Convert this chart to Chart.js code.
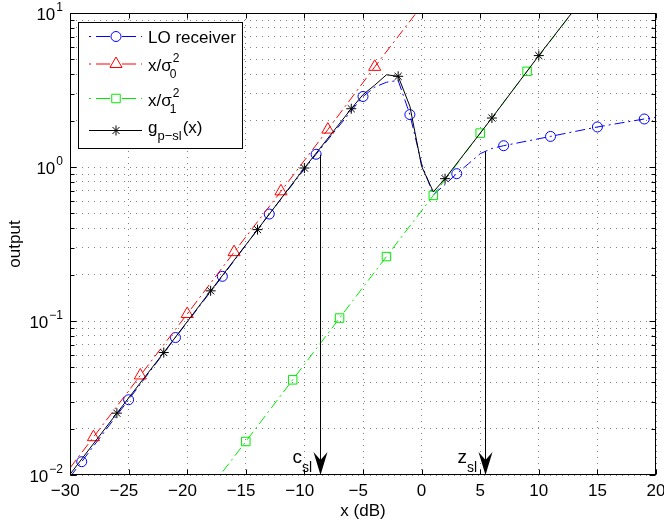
<!DOCTYPE html>
<html>
<head>
<meta charset="utf-8">
<script src="https://cdn.jsdelivr.net/npm/chart.js@4.4.1/dist/chart.umd.min.js"></script>
<style>
  html, body { margin: 0; padding: 0; background: #fff; }
  canvas { display: block; }
</style>
</head>
<body>
<canvas id="chart" width="664" height="527"></canvas>
<script>
// values (x in dB, output on log axis)
const loX = [-30, -29, -25, -21, -17, -13, -9, -5, -4, -3, -2, -1, 0, 1, 2, 3, 4, 5, 6, 7, 11, 15, 19, 20];
const loY = [0.0097, 0.0122, 0.0308, 0.0781, 0.195, 0.495, 1.21, 2.87, 3.3, 3.55, 3.65, 2.19, 1.05, 0.66, 0.77, 0.905, 1.05, 1.22, 1.32, 1.375, 1.58, 1.82, 2.05, 2.1];
const loMarks = [-29, -25, -21, -17, -13, -9, -5, -1, 3, 7, 11, 15, 19];

const s0X = [-30, -28, -24, -20, -16, -12, -8, -4, 0];
const s0Y = [0.0111, 0.0176, 0.0443, 0.111, 0.28, 0.695, 1.75, 4.47, 11.1];
const s0Marks = [-28, -24, -20, -16, -12, -8, -4];

const s1X = [-18, -15, -11, -7, -3, 1, 5, 9, 13];
const s1Y = [0.0083, 0.0165, 0.0415, 0.1045, 0.262, 0.654, 1.66, 4.18, 10.4];
const s1Marks = [-15, -11, -7, -3, 1, 5, 9];

const gX = [-30, -26, -22, -18, -14, -10, -6, -5, -4, -3, -2, -1, 0, 1, 2, 6, 10, 14];
const gY = [0.0101, 0.0252, 0.0624, 0.157, 0.392, 0.985, 2.39, 2.95, 3.4, 3.97, 3.88, 2.48, 1.01, 0.69, 0.84, 2.08, 5.29, 13.1];
const gMarks = [-26, -22, -18, -14, -10, -6, -2, 2, 6, 10];

const xTickVals = [-30, -25, -20, -15, -10, -5, 0, 5, 10, 15, 20];
const yDecades = [-2, -1, 0, 1];

// the two marked thresholds (arrows down to the x axis)
const arrowX = [-8.7, 5.4];
const arrowTop = [1.2, 1.26];
const arrowName = ['c', 'z'];
const arrowSub = 'sl';

const FONT = "'Liberation Sans', Arial, Helvetica, sans-serif";
const BLUE = '#0000ff', RED = '#ff0000', GREEN = 'rgb(0,235,0)', BLACK = '#000';
const DASHDOT = [10, 4, 2, 4];

const pts = (xs, ys) => xs.map((x, i) => ({ x, y: ys[i] }));
const onMarks = (list, r) => c => (c.raw && list.includes(c.raw.x)) ? r : 0;

// minor + major log grid positions
const yGrid = [];
for (let d = -2; d < 1; d++) for (let m = 1; m < 10; m++) yGrid.push(+(m * Math.pow(10, d)).toPrecision(3));
yGrid.push(10);

function marker(ctx, style, x, y, r, color) {
  ctx.save();
  ctx.strokeStyle = color; ctx.lineWidth = 1; ctx.setLineDash([]);
  ctx.beginPath();
  if (style === 'circle') ctx.arc(x, y, r, 0, Math.PI * 2);
  else if (style === 'triangle') {
    for (let k = 0; k < 3; k++) {
      const a = k * 2 * Math.PI / 3;
      ctx.lineTo(x + Math.sin(a) * r, y - Math.cos(a) * r);
    }
    ctx.closePath();
  } else if (style === 'rect') {
    const s = r * Math.SQRT1_2;
    ctx.rect(x - s, y - s, 2 * s, 2 * s);
  } else if (style === 'star') {
    for (let k = 0; k < 4; k++) {
      const a = k * Math.PI / 4;
      ctx.moveTo(x + Math.cos(a) * r, y + Math.sin(a) * r);
      ctx.lineTo(x - Math.cos(a) * r, y - Math.sin(a) * r);
    }
  }
  ctx.stroke();
  ctx.restore();
}

// draws a piece of text, returns the x where it ends
function txt(ctx, s, x, y, size) {
  ctx.font = size + 'px ' + FONT;
  ctx.fillText(s, x, y);
  return x + ctx.measureText(s).width;
}

const decor = {
  id: 'decor',
  afterDatasetsDraw(chart) {
    const { ctx, chartArea: a, scales: { x: xs, y: ys } } = chart;
    const L = Math.round(a.left) + 0.5, R = Math.round(a.right) - 0.5;
    const T = Math.round(a.top) + 0.5, B = Math.round(a.bottom) - 0.5;
    ctx.save();
    ctx.strokeStyle = BLACK; ctx.lineWidth = 1; ctx.setLineDash([]);

    // inward ticks on all four sides
    ctx.beginPath();
    for (const v of xTickVals) {
      const px = Math.round(xs.getPixelForValue(v)) + 0.5;
      ctx.moveTo(px, B); ctx.lineTo(px, B - 5);
      ctx.moveTo(px, T); ctx.lineTo(px, T + 5);
    }
    for (const v of yGrid) {
      const py = Math.round(ys.getPixelForValue(v)) + 0.5;
      const len = Number.isInteger(Math.log10(v)) ? 6 : 4;
      ctx.moveTo(L, py); ctx.lineTo(L + len, py);
      ctx.moveTo(R, py); ctx.lineTo(R - len, py);
    }
    ctx.stroke();
    ctx.strokeRect(L, T, R - L, B - T);

    // y tick labels 10^n
    ctx.fillStyle = BLACK; ctx.textBaseline = 'alphabetic'; ctx.textAlign = 'left';
    for (const d of yDecades) {
      const py = ys.getPixelForValue(Math.pow(10, d));
      const e = d < 0 ? '\u2212' + (-d) : String(d);
      ctx.font = '12px ' + FONT; const ew = ctx.measureText(e).width;
      ctx.font = '17px ' + FONT; const bw = ctx.measureText('10').width;
      const x0 = 63 - ew - bw - 1;
      txt(ctx, '10', x0, py + 6.5, 17);
      txt(ctx, e, x0 + bw + 1, py - 2.5, 12);
    }

    // arrows c_sl and z_sl
    arrowX.forEach((xv, i) => {
      const px = Math.round(xs.getPixelForValue(xv)) + 0.5;
      const top = ys.getPixelForValue(arrowTop[i]);
      const bot = a.bottom;
      ctx.beginPath(); ctx.moveTo(px, top); ctx.lineTo(px, bot - 12); ctx.stroke();
      ctx.beginPath();
      ctx.moveTo(px, bot);
      ctx.lineTo(px - 7, bot - 23);
      ctx.lineTo(px, bot - 15);
      ctx.lineTo(px + 7, bot - 23);
      ctx.closePath(); ctx.fill();
      const tx = txt(ctx, arrowName[i], px - 28, bot - 12, 19);
      txt(ctx, arrowSub, tx, bot - 3.5, 14);
    });

    // legend
    const bx = 78.5, by = 22.5, bw = 164, bh = 126;
    ctx.fillStyle = '#fff'; ctx.fillRect(bx, by, bw, bh);
    ctx.strokeRect(bx, by, bw, bh);
    const rows = [
      { c: BLUE, st: 'circle', r: 5, y: 36.5, dash: true },
      { c: RED, st: 'triangle', r: 7, y: 64, dash: true },
      { c: GREEN, st: 'rect', r: 6, y: 98.5, dash: true },
      { c: BLACK, st: 'star', r: 5, y: 130.5, dash: false }
    ];
    for (const rw of rows) {
      ctx.save();
      ctx.strokeStyle = rw.c;
      ctx.setLineDash(rw.dash ? [2, 5, 14, 12, 14, 5, 2] : []);
      ctx.beginPath(); ctx.moveTo(89, rw.y); ctx.lineTo(142, rw.y); ctx.stroke();
      ctx.restore();
      marker(ctx, rw.st, 116, rw.y, rw.r, rw.c);
    }
    ctx.fillStyle = BLACK;
    txt(ctx, 'LO receiver', 148, 42.5, 17);
    const x1 = txt(ctx, 'x/\u03c3', 148, 71, 17);
    txt(ctx, '2', x1 + 1, 62, 12); txt(ctx, '0', x1 - 2, 78, 12);
    const x2 = txt(ctx, 'x/\u03c3', 148, 106, 17);
    txt(ctx, '2', x2 + 1, 97, 12); txt(ctx, '1', x2 - 2, 113, 12);
    let x3 = txt(ctx, 'g', 148, 133, 17);
    x3 = txt(ctx, 'p\u2212sl', x3, 139.5, 13);
    txt(ctx, '(x)', x3 + 1, 133, 17);
    ctx.restore();
  }
};

const ds = (label, xs, ys, mk, color, style, r, dash, order) => ({
  label, data: pts(xs, ys), order,
  borderColor: color, borderWidth: 1, borderDash: dash, fill: false, tension: 0,
  pointStyle: style, pointRadius: onMarks(mk, r), pointHoverRadius: 0,
  pointBorderColor: color, pointBackgroundColor: 'rgba(0,0,0,0)', pointBorderWidth: 1
});

new Chart(document.getElementById('chart'), {
  type: 'line',
  data: {
    datasets: [
      ds('LO receiver', loX, loY, loMarks, BLUE, 'circle', 5, DASHDOT, 4),
      ds('x/\u03c3\u2080\u00b2', s0X, s0Y, s0Marks, RED, 'triangle', 7, DASHDOT, 3),
      ds('x/\u03c3\u2081\u00b2', s1X, s1Y, s1Marks, GREEN, 'rect', 6, DASHDOT, 2),
      ds('g_p-sl(x)', gX, gY, gMarks, BLACK, 'star', 5, [], 1)
    ]
  },
  options: {
    responsive: false, animation: false, devicePixelRatio: 1, events: [],
    layout: { padding: { top: 13, right: 8, left: 0, bottom: 0 } },
    plugins: { legend: { display: false }, tooltip: { enabled: false } },
    scales: {
      x: {
        type: 'linear', min: -30, max: 20,
        afterBuildTicks: s => { s.ticks = xTickVals.map(v => ({ value: v })); },
        afterFit: s => { s.height = 52; s.paddingLeft = 0; s.paddingRight = 0; },
        ticks: {
          autoSkip: false, maxRotation: 0, padding: 6, color: BLACK,
          font: { family: FONT, size: 17 },
          callback: v => v < 0 ? '\u2212' + (-v) + '\u2007' : String(v)
        },
        grid: { color: 'rgba(0,0,0,0.5)', lineWidth: 1, drawTicks: false },
        border: { display: false, dash: [1, 5] },
        title: { display: true, text: 'x (dB)', color: BLACK, font: { family: FONT, size: 17 }, padding: { top: 0, bottom: 5 } }
      },
      y: {
        type: 'logarithmic', min: 0.01, max: 10,
        afterBuildTicks: s => { s.ticks = yGrid.map(v => ({ value: v })); },
        afterFit: s => { s.width = 70; },
        ticks: { display: false },
        grid: { color: 'rgba(0,0,0,0.5)', lineWidth: 1, drawTicks: false },
        border: { display: false, dash: [1, 5] },
        title: { display: true, text: 'output', color: BLACK, font: { family: FONT, size: 17 }, padding: { top: 5, bottom: 0 } }
      }
    }
  },
  plugins: [decor]
});
</script>
</body>
</html>
